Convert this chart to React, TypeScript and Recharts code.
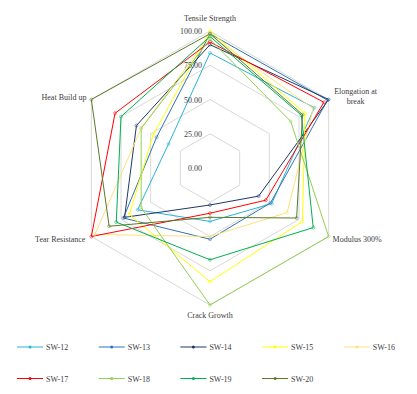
import React from 'react';
import { RadarChart, Radar, PolarGrid, PolarAngleAxis, PolarRadiusAxis } from 'recharts';

const categories = ['Tensile Strength', 'Elongation at break', 'Modulus 300%', 'Crack Growth', 'Tear Resistance', 'Heat Build up'];
const radiusTicks = [0, 25, 50, 75, 100];

const seriesNames = ['SW-12', 'SW-13', 'SW-14', 'SW-15', 'SW-16', 'SW-17', 'SW-18', 'SW-19', 'SW-20'];
const seriesColors = ['#2BB3D8', '#2E75B6', '#1F3864', '#FFFF00', '#FFE07A', '#FF0000', '#92D050', '#00B050', '#5A7A2A'];

const sw12 = [84, 88, 52, 39, 61, 35];
const sw13 = [98, 99, 51, 52, 73, 45];
const sw14 = [90, 100, 41, 27, 72, 62];
const sw15 = [100, 80, 78, 83, 68, 48];
const sw16 = [97, 87, 65, 50, 97, 58];
const sw17 = [92, 96, 47, 33, 100, 80];
const sw18 = [94, 68, 100, 100, 58, 58];
const sw19 = [96, 77, 87, 67, 79, 75];
const sw20 = [98, 78, 73, 36, 85, 100];

const seriesValues = [sw12, sw13, sw14, sw15, sw16, sw17, sw18, sw19, sw20];

const data = categories.map((c, i) => {
  const row: any = { category: c };
  seriesNames.forEach((n, s) => { row[n] = seriesValues[s][i]; });
  return row;
});

const FONT = "'Liberation Serif', 'Times New Roman', 'DejaVu Serif', serif";
const TEXT = '#404040';
const textStyle: React.CSSProperties = { fontFamily: FONT, fontSize: 8, fill: TEXT };

const AngleTick = (props: any) => {
  const { x, y, payload } = props;
  const v = payload.value as string;
  if (v === 'Tensile Strength') return <text x={x} y={y - 2} textAnchor="middle" style={textStyle}>{v}</text>;
  if (v === 'Elongation at break') return (
    <text x={x + 20} y={y - 2} textAnchor="middle" style={textStyle}>
      <tspan x={x + 20} dy={0}>Elongation at</tspan>
      <tspan x={x + 20} dy={10}>break</tspan>
    </text>
  );
  if (v === 'Modulus 300%') return <text x={x - 3} y={y + 1} textAnchor="start" style={textStyle}>{v}</text>;
  if (v === 'Crack Growth') return <text x={x} y={y + 5} textAnchor="middle" style={textStyle}>{v}</text>;
  if (v === 'Tear Resistance') return <text x={x + 1} y={y + 1} textAnchor="end" style={textStyle}>{v}</text>;
  return <text x={x + 2} y={y + 4} textAnchor="end" style={textStyle}>{v}</text>;
};

const RadiusTick = (props: any) => {
  const { x, y, payload } = props;
  return (
    <text x={x - 8} y={y + 3} textAnchor="end" style={textStyle}>
      {Number(payload.value).toFixed(2)}
    </text>
  );
};

export default function App() {
  return (
    <div style={{ position: 'fixed', left: 0, top: 0, width: 417, height: 394, background: '#fff', fontFamily: FONT }}>
      <RadarChart width={417} height={394} data={data} cx={210} cy={168} outerRadius={137} margin={{ top: 0, right: 0, bottom: 0, left: 0 }}>
        <PolarGrid gridType="polygon" radialLines={false} stroke="#D9D9D9" strokeWidth={1} />
        <PolarAngleAxis dataKey="category" tick={<AngleTick />} tickLine={false} axisLine={false} />
        <PolarRadiusAxis angle={90} domain={[0, 100]} ticks={radiusTicks as any} tickCount={5} axisLine={false} tickLine={false} tick={<RadiusTick />} />
        {seriesNames.map((n, i) => (
          <Radar
            key={n}
            name={n}
            dataKey={n}
            stroke={seriesColors[i]}
            strokeWidth={1}
            fill="none"
            fillOpacity={0}
            dot={{ r: 1.5, fill: seriesColors[i], stroke: seriesColors[i], strokeWidth: 0.5 }}
            isAnimationActive={false}
          />
        ))}
      </RadarChart>
      <svg width={417} height={64} style={{ position: 'absolute', left: 0, top: 330 }}>
        {seriesNames.map((n, i) => {
          const col = i % 5;
          const row = Math.floor(i / 5);
          const x0 = 17 + col * 81.7;
          const y0 = 17 + row * 31.5;
          return (
            <g key={n}>
              <line x1={x0} y1={y0} x2={x0 + 26} y2={y0} stroke={seriesColors[i]} strokeWidth={1} />
              <circle cx={x0 + 13} cy={y0} r={1.5} fill={seriesColors[i]} />
              <text x={x0 + 29} y={y0 + 3} style={textStyle}>{n}</text>
            </g>
          );
        })}
      </svg>
    </div>
  );
}
